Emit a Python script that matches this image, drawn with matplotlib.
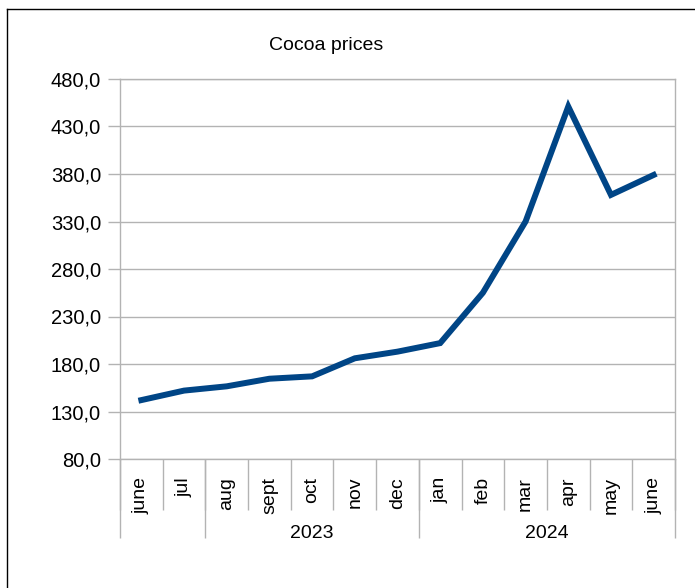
import matplotlib
matplotlib.use('Agg')
import matplotlib.pyplot as plt
from matplotlib.lines import Line2D

months = ['june', 'jul', 'aug', 'sept', 'oct', 'nov', 'dec',
          'jan', 'feb', 'mar', 'apr', 'may', 'june']
prices = [142, 152, 156.5, 164.5, 167, 186, 193, 202, 255, 330, 451, 358, 379]
years = ['2023', '2024']
year_groups = [(2, 7), (7, 13)]  # (first, end) of the span labelled with the year
yticks = [80, 130, 180, 230, 280, 330, 380, 430, 480]

plt.rcParams['font.family'] = ['Liberation Sans', 'DejaVu Sans']
grey = '#b3b3b3'

fig = plt.figure(figsize=(6.95, 5.88), dpi=100)
ax = fig.add_axes([120/695, 1 - 459/588, 555/695, 380/588])

x = list(range(len(months)))
ax.plot(x, prices, color='#004586', linewidth=4.3, solid_joinstyle='miter')

ax.set_xlim(-0.5, len(months) - 0.5)
ax.set_ylim(80, 480)
ax.set_yticks(yticks)
ax.set_yticklabels([f'{v:.1f}'.replace('.', ',') for v in yticks], fontsize=14.5)
ax.yaxis.grid(True, color=grey, linewidth=1)
ax.tick_params(axis='y', length=8.6, width=1, color=grey, pad=5)

for s in ax.spines.values():
    s.set_color(grey)
    s.set_linewidth(1)

# category axis: month labels, month separators, year separators
ax.set_xticks([])
tr = ax.get_xaxis_transform()
bounds = [i - 0.5 for i in range(len(months) + 1)]
ax.vlines(bounds, -51/380, 0, transform=tr, colors=grey, linewidth=1, clip_on=False)
ybounds = [-0.5] + [b - 0.5 for _, b in year_groups] + [year_groups[0][0] - 0.5]
ax.vlines(ybounds, -79/380, 0, transform=tr, colors=grey, linewidth=1, clip_on=False)
for i, m in enumerate(months):
    ax.text(i, -18/380, m, transform=tr, rotation=90, ha='center', va='top', fontsize=14)
for (a, b), yr in zip(year_groups, years):
    ax.text((a + b - 1) / 2, -74/380, yr, transform=tr, ha='center', va='center', fontsize=14)

fig.text(326/695, 1 - 46/588, 'Cocoa prices', ha='center', va='center', fontsize=14)

# page frame (right and bottom edges lie off the picture)
fig.add_artist(Line2D([7/695, 1], [1 - 9/588, 1 - 9/588], color='black', linewidth=1))
fig.add_artist(Line2D([7/695, 7/695], [0, 1 - 9/588], color='black', linewidth=1))

fig.savefig('out.png', dpi=100)
